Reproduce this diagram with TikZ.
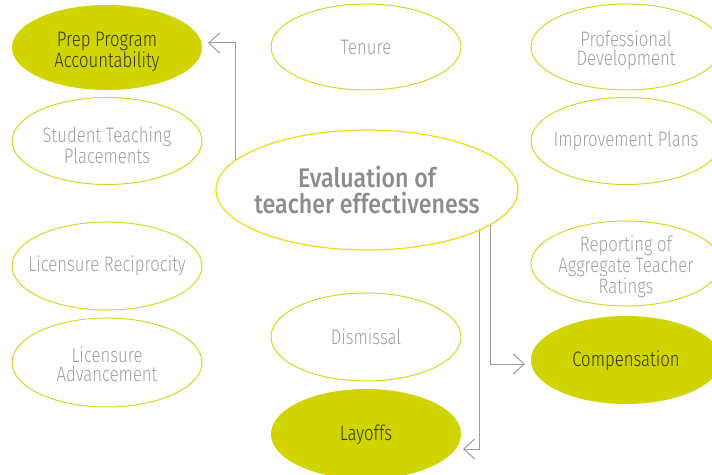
\documentclass[tikz,border=0pt]{standalone}
\usepackage{fontspec}
\setmainfont{Fira Sans Light}[FakeStretch=0.80]
\newfontfamily\ctrfont{Fira Sans Medium}[FakeStretch=0.86]
\usetikzlibrary{shapes.geometric,arrows.meta}
\definecolor{olive}{RGB}{208,212,0}
\definecolor{rim}{RGB}{212,214,40}
\definecolor{gold}{RGB}{240,216,20}
\definecolor{txtgray}{RGB}{160,160,160}
\definecolor{ctrgray}{RGB}{140,140,140}
\definecolor{darktxt}{RGB}{55,55,15}
\definecolor{conn}{RGB}{155,155,160}
\begin{document}
\begin{tikzpicture}[x=1bp,y=-1bp,
  bub/.style={ellipse, draw=rim, line width=1bp, minimum width=190bp, minimum height=86bp, inner sep=0pt},
  fillbub/.style={bub, fill=olive, draw=none},
  lbl/.style={inner sep=0pt, align=center, font=\fontsize{21}{19}\selectfont, text=txtgray},
  flbl/.style={lbl, text=darktxt},
  ctr/.style={ellipse, draw=gold, line width=1.2bp, minimum width=302bp, minimum height=120bp,
    inner xsep=-120bp, inner ysep=-50bp, align=center, font=\ctrfont\fontsize{27}{27}\selectfont, text=ctrgray},
  connector/.style={draw=conn, line width=1bp, -{Straight Barb[length=11bp,width=20bp,line width=1bp]}}]
\useasboundingbox (0,0) rectangle (712,475);
% bubbles
\node[fillbub, minimum height=85bp] (prep) at (107,47.5) {};
\node[bub] (tenure) at (366,47) {};
\node[bub] (prof) at (626,47) {};
\node[bub, minimum height=87bp] (stud) at (107,141) {};
\node[bub, minimum height=87bp] (impr) at (626,141) {};
\node[bub, minimum height=88bp] (lrec) at (107,266) {};
\node[bub, minimum height=85bp] (rep) at (626,263.5) {};
\node[bub, minimum height=88bp] (dis) at (366,337) {};
\node[fillbub, minimum height=88bp] (comp) at (626,360) {};
\node[bub, minimum height=89bp] (ladv) at (107,362.5) {};
\node[fillbub, minimum height=90bp] (lay) at (366,434) {};
\node[ctr] (c) at (367,190) {Evaluation of\\teacher effectiveness};
% texts
\node[flbl] (prep-t) at ([yshift=-4bp]prep.center) {Prep Program\\Accountability};
\node[lbl] (tenure-t) at (tenure.center) {Tenure};
\node[lbl] (prof-t) at ([yshift=-3bp]prof.center) {Professional\\Development};
\node[lbl] (stud-t) at ([yshift=-4bp]stud.center) {Student Teaching\\Placements};
\node[lbl] (impr-t) at (impr.center) {Improvement Plans};
\node[lbl] (lrec-t) at (lrec.center) {Licensure Reciprocity};
\node[lbl] (rep-t) at ([yshift=-3bp]rep.center) {Reporting of\\Aggregate Teacher\\Ratings};
\node[lbl] (dis-t) at (dis.center) {Dismissal};
\node[flbl] (comp-t) at ([yshift=-1bp]comp.center) {Compensation};
\node[lbl] (ladv-t) at ([yshift=-2bp]ladv.center) {Licensure\\Advancement};
\node[flbl] (lay-t) at ([yshift=-1bp]lay.center) {Layoffs};
% connectors
\coordinate (a1) at (208,43);
\coordinate (a2) at (525,364);
\coordinate (a3) at (463,449);
\draw[connector] (c.167) |- (a1);
\draw[connector] (c.344.7) |- (a2);
\draw[connector] (c.340.6) |- (a3);
\end{tikzpicture}
\end{document}
